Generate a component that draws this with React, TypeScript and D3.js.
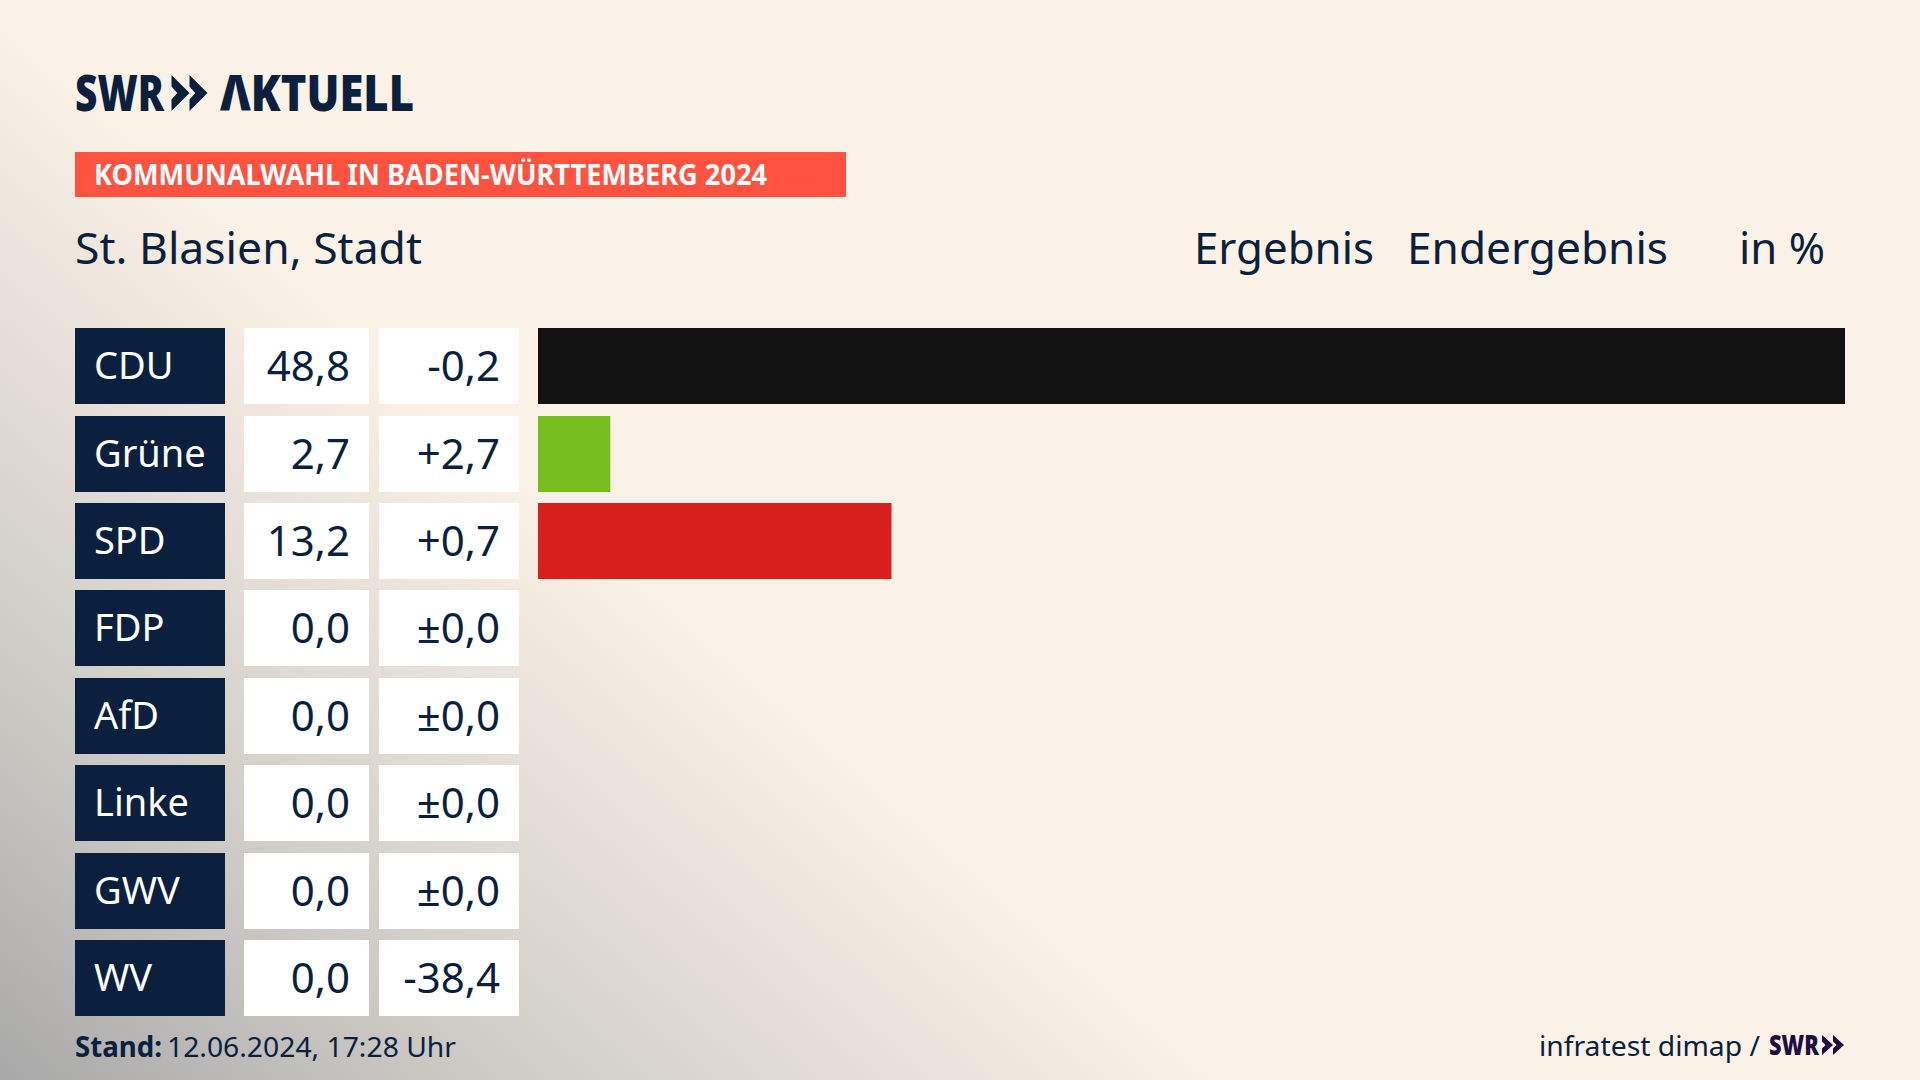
import * as d3 from "d3";

const parties = ["CDU", "Grüne", "SPD", "FDP", "AfD", "Linke", "GWV", "WV"];
const results = [48.8, 2.7, 13.2, 0, 0, 0, 0, 0];
const diffs = ["-0,2", "+2,7", "+0,7", "±0,0", "±0,0", "±0,0", "±0,0", "-38,4"];
const barColors = ["#121212", "#78be1e", "#d7201b", "#ffd500", "#009ee0", "#be3075", "#888888", "#888888"];

const NAVY = "#0b1f3e";
const FONT = "'Noto Sans', sans-serif";

const fmt = (v: number) => v.toFixed(1).replace(".", ",");

function Chevrons({ x, y, w, h, fill }: { x: number; y: number; w: number; h: number; fill: string }) {
  // the two arrows of the SWR logo, each w wide and h tall
  const arrow = (x0: number) =>
    `M${x0},${y} L${x0 + w},${y + h / 2} L${x0},${y + h} L${x0},${y + h * 0.68} L${x0 + w * 0.32},${y + h / 2} L${x0},${y + h * 0.32} Z`;
  return <path d={arrow(x) + arrow(x + w)} fill={fill} />;
}

export default function App() {
  const x = d3.scaleLinear().domain([0, 48.8]).range([538, 1845]);
  const y = d3.scaleBand().domain(parties).range([328, 1016]).paddingInner(0.1307);
  const band = Math.round(y.bandwidth());

  return (
    <svg
      width={1920}
      height={1080}
      viewBox="0 0 1920 1080"
      style={{ position: "fixed", left: 0, top: 0 }}
      fontFamily={FONT}
    >
      <defs>
        <linearGradient id="shade" gradientUnits="userSpaceOnUse" x1={0} y1={1080} x2={524} y2={476}>
          <stop offset="0" stopColor="#a8a8a8" />
          <stop offset="0.2" stopColor="#bcbab8" />
          <stop offset="0.42" stopColor="#cfccc7" />
          <stop offset="0.6" stopColor="#dcd8d1" />
          <stop offset="0.72" stopColor="#e6dfd9" />
          <stop offset="0.86" stopColor="#f0e8de" />
          <stop offset="1" stopColor="#faf2e6" />
        </linearGradient>
      </defs>
      <rect width={1920} height={1080} fill="url(#shade)" />

      {/* logo */}
      <text x={75} y={111} fontSize={50} fontWeight={900} fill={NAVY} textLength={89} lengthAdjust="spacingAndGlyphs">
        SWR
      </text>
      <Chevrons x={171.5} y={75} w={18} h={36} fill={NAVY} />
      <text x={220} y={111} fontSize={50} fontWeight={900} fill={NAVY} textLength={194} lengthAdjust="spacingAndGlyphs">
        ΛKTUELL
      </text>

      {/* banner */}
      <rect x={75} y={152} width={771} height={45} fill="#ff5240" />
      <text x={94} y={185} fontSize={28} fontWeight={700} fill="#fff" textLength={673} lengthAdjust="spacingAndGlyphs">
        KOMMUNALWAHL IN BADEN-WÜRTTEMBERG 2024
      </text>

      {/* title row */}
      <g fontSize={44} fill={NAVY}>
        <text x={75} y={264} textLength={347} lengthAdjust="spacingAndGlyphs">St. Blasien, Stadt</text>
        <text x={1194} y={264} textLength={180} lengthAdjust="spacingAndGlyphs">Ergebnis</text>
        <text x={1407} y={264} textLength={261} lengthAdjust="spacingAndGlyphs">Endergebnis</text>
        <text x={1739} y={264} textLength={86} lengthAdjust="spacingAndGlyphs">in %</text>
      </g>

      {/* rows */}
      {parties.map((p, i) => {
        const top = Math.round((y(p) as number) + 0.1);
        const base = top + band / 2 + 14.5;
        return (
          <g key={p}>
            <rect x={75} y={top} width={150} height={band} fill={NAVY} />
            <text x={94} y={base - 1.5} fontSize={38} fill="#fff">{p}</text>
            <rect x={244} y={top} width={125} height={band} fill="#fff" />
            <text x={350} y={base} fontSize={42} fill={NAVY} textAnchor="end">{fmt(results[i])}</text>
            <rect x={379} y={top} width={140} height={band} fill="#fff" />
            <text x={500} y={base} fontSize={42} fill={NAVY} textAnchor="end">{diffs[i]}</text>
            {results[i] > 0 && (
              <rect x={x(0)} y={top} width={x(results[i]) - x(0)} height={band} fill={barColors[i]} />
            )}
          </g>
        );
      })}

      {/* footer */}
      <text x={75} y={1057} fontSize={28} fontWeight={700} fill={NAVY} textLength={87} lengthAdjust="spacingAndGlyphs">Stand:</text>
      <text x={167} y={1057} fontSize={28} fill={NAVY} textLength={289} lengthAdjust="spacingAndGlyphs">12.06.2024, 17:28 Uhr</text>
      <text x={1539} y={1056} fontSize={28} fill={NAVY} textLength={221} lengthAdjust="spacingAndGlyphs">infratest dimap /</text>
      <text x={1769} y={1055} fontSize={28} fontWeight={900} fill="#1f0f3f" textLength={50} lengthAdjust="spacingAndGlyphs">SWR</text>
      <Chevrons x={1822} y={1035} w={11} h={20} fill="#1f0f3f" />
    </svg>
  );
}
